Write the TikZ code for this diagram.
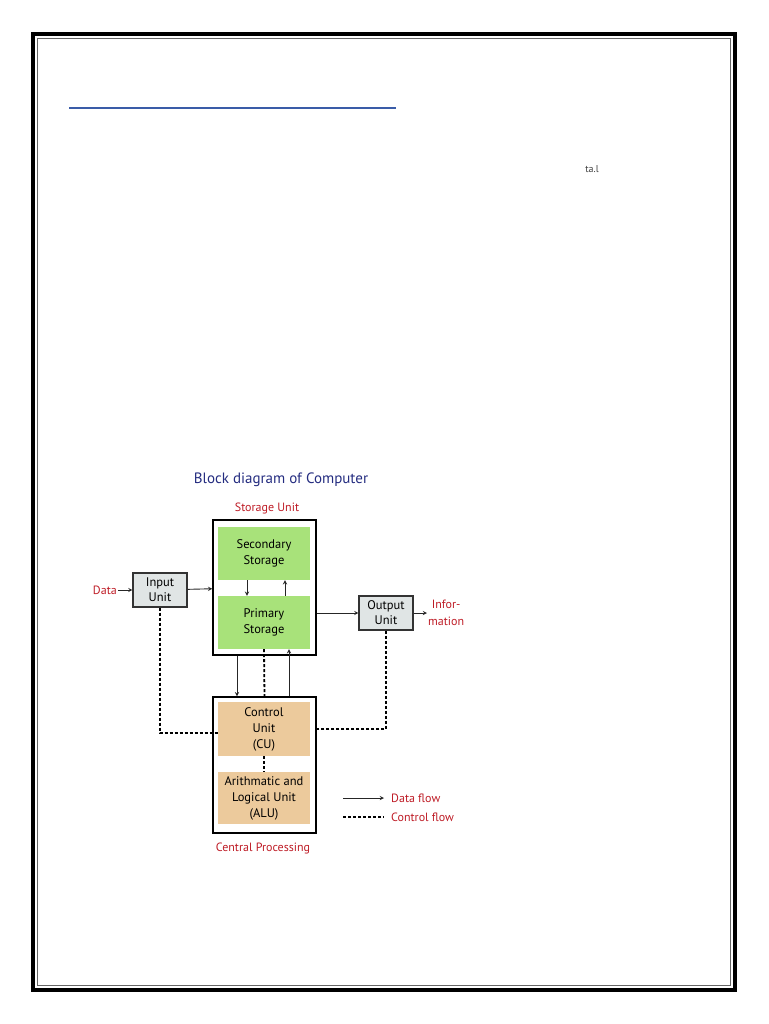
\documentclass[tikz,border=0pt]{standalone}
\usepackage{fontspec}
\setmainfont{PT Sans}
\usetikzlibrary{arrows,positioning}
\definecolor{stgreen}{RGB}{168,226,122}
\definecolor{cputan}{RGB}{236,202,156}
\definecolor{iogray}{RGB}{224,229,229}
\definecolor{lblred}{RGB}{190,28,38}
\definecolor{ttlnavy}{RGB}{36,44,128}
\definecolor{rulblue}{RGB}{58,92,168}
\newcommand{\Flow}[2]{\draw [arc] (#1) -- (#2);}

\begin{document}
\begin{tikzpicture}
[x=1pt,y=-1pt,
 arc/.style={->,>=stealth,line width=0.9pt,draw=black!85},
 ctrl/.style={line width=1.8pt,dash pattern=on 3pt off 2pt},
 unit/.style={draw,line width=1.4pt,minimum width=103pt,minimum height=135pt,inner sep=0pt},
 part/.style={minimum width=92pt,minimum height=53pt,align=center,inner sep=0pt,
   font=\fontsize{12.5}{16}\selectfont},
 iobox/.style={draw=black!80,line width=1.1pt,fill=iogray,minimum width=54pt,
   minimum height=34pt,align=center,inner sep=0pt,font=\fontsize{12.5}{15}\selectfont},
 lbl/.style={text=lblred,align=center,inner sep=1pt,font=\fontsize{12}{17}\selectfont},]

\useasboundingbox (0,0) rectangle (768,1024);

% page frame and heading rule
\draw [line width=4pt] (33,34) rectangle (735,990);
\draw [line width=0.8pt,black!60] (37.5,38.5) rectangle (730.5,985.5);
\draw [line width=2pt,rulblue] (69,108) -- (396,108);
\node [text=black!75,font=\fontsize{10}{11}\selectfont,inner sep=0pt] (note) at (592,169) {ta.l};

% title
\node [text=ttlnavy,font=\fontsize{15}{17}\selectfont] (title) at (281,480) {Block diagram of Computer};

% storage unit
\node [unit] (stor) at (264.5,587.5) {};
\node [part,fill=stgreen] (sec) at (264,553.5) {Secondary\\Storage};
\node [part,fill=stgreen] (prim) at (264,622.5) {Primary\\Storage};
\node [lbl] (storl) at (267,508) {Storage Unit};

% central processing unit
\node [unit,minimum height=136pt] (cpu) at (264.5,765) {};
\node [part,fill=cputan,minimum height=54pt] (cu) at (264,729) {Control\\Unit\\(CU)};
\node [part,fill=cputan,minimum height=52pt] (alu) at (264,798) {Arithmatic and\\Logical Unit\\(ALU)};
\node [lbl] (cpul) at (263,848) {Central Processing};

% input and output
\node [iobox] (inp) at (160,590) {Input\\Unit};
\node [iobox] (outp) at (386,613) {Output\\Unit};
\node [lbl,anchor=east] (data) at (118,590) {Data};
\node [lbl,anchor=west] (info) at (427,613) {Infor-\\mation};

% data flow
\Flow{data}{inp}
\Flow{inp}{stor}
\draw [arc] (outp.west -| stor.east) -- (outp.west);
\Flow{outp}{info}
\draw [arc] ([xshift=-17pt]sec.south) -- ([xshift=-17pt]prim.north);
\draw [arc] ([xshift=21pt]prim.north) -- ([xshift=21pt]sec.south);
\draw [arc] ([xshift=-27.5pt]stor.south) -- ([xshift=-27.5pt]cpu.north);
\draw [arc] ([xshift=24.5pt]cpu.north) -- ([xshift=24.5pt]cpu.north |- prim.south);

% control flow
\draw [ctrl] (prim.south) -- (cpu.north);
\draw [ctrl] (cu.south) -- (alu.north);
\draw [ctrl] (inp.south) |- ([yshift=-4pt]cu.west);
\draw [ctrl] (outp.south) |- (cpu.east |- cu.east);

% legend
\coordinate (lgd1) at (343,798);
\coordinate (lgd2) at (343,817);
\node [lbl,anchor=west] (lgdd) at (390,798) {Data flow};
\node [lbl,anchor=west] (lgdc) at (390,817) {Control flow};
\draw [arc] (lgd1) -- ([xshift=-6pt]lgdd.west);
\draw [ctrl] (lgd2) -- ([xshift=-6pt]lgdc.west);
\end{tikzpicture}
\end{document}
